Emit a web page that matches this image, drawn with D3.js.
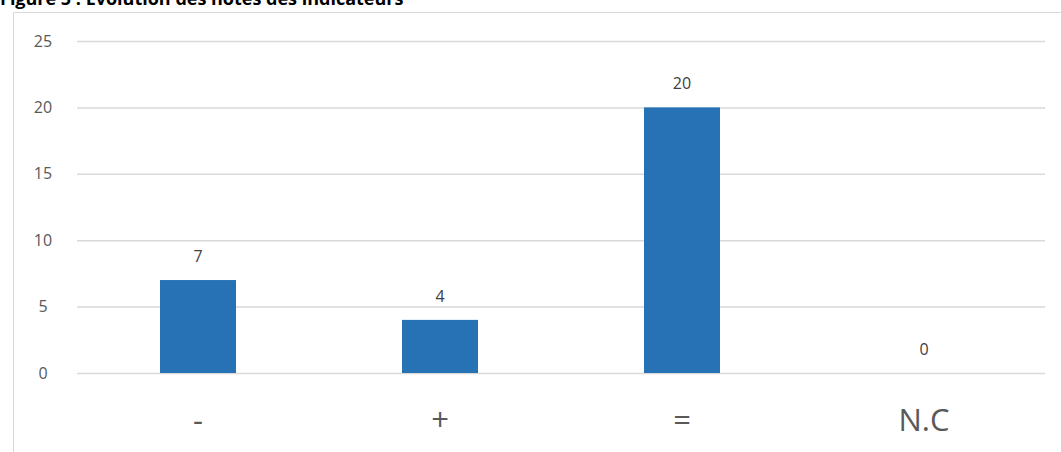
<!DOCTYPE html>
<html>
<head>
<meta charset="utf-8">
<script src="https://cdn.jsdelivr.net/npm/d3@7"></script>
<style>
  html, body { margin: 0; padding: 0; background: #fff; }
  svg { display: block; }
</style>
</head>
<body>
<svg id="chart" width="1061" height="452"></svg>
<script>
const titleText = "Figure 5 : Evolution des notes des indicateurs";
const categories = ["-", "+", "=", "N.C"];
const values = [7, 4, 20, 0];
const yTicks = [0, 5, 10, 15, 20, 25];

const svg = d3.select("#chart");
const W = 1061, H = 452;
const margin = { left: 77, right: 16, top: 41, bottom: 79 };

// title (partially cut at top, as in the reference)
svg.append("text")
  .attr("x", 0).attr("y", 5)
  .attr("font-family", "'Open Sans', sans-serif")
  .attr("font-weight", "bold")
  .attr("font-size", 18)
  .attr("fill", "#000")
  .text(titleText);

// chart frame
svg.append("path")
  .attr("d", `M13.5,${H} L13.5,12.5 L${W},12.5`)
  .attr("fill", "none")
  .attr("stroke", "#d9d9d9")
  .attr("stroke-width", 1);

const x = d3.scaleBand().domain(categories)
  .range([margin.left, W - margin.right]).paddingInner(0).paddingOuter(0);
const y = d3.scaleLinear().domain([0, 25]).range([H - margin.bottom, margin.top]);

// gridlines + y tick labels
const yAxis = d3.axisLeft(y).tickValues(yTicks).tickSize(-(W - margin.right - margin.left)).tickPadding(25);
const gy = svg.append("g").attr("transform", `translate(${margin.left},0)`).call(yAxis);
gy.select(".domain").remove();
gy.selectAll(".tick line").attr("stroke", "#d9d9d9").attr("stroke-width", 1.5);
gy.selectAll(".tick text")
  .attr("font-family", "'Open Sans', sans-serif")
  .attr("font-size", 16)
  .attr("fill", "#595959")
  .attr("x", -34)
  .attr("text-anchor", "middle");

// bars
const barW = x.bandwidth() * 0.314;
svg.append("g").selectAll("rect").data(values).join("rect")
  .attr("x", (d, i) => x(categories[i]) + x.bandwidth() / 2 - barW / 2)
  .attr("y", d => y(d))
  .attr("width", barW)
  .attr("height", d => y(0) - y(d))
  .attr("fill", "#2771b5");

// value labels
svg.append("g").selectAll("text").data(values).join("text")
  .attr("x", (d, i) => x(categories[i]) + x.bandwidth() / 2)
  .attr("y", d => y(d) - 18)
  .attr("text-anchor", "middle")
  .attr("font-family", "'Open Sans', sans-serif")
  .attr("font-size", 16)
  .attr("fill", "#404040")
  .text(d => d);

// category labels
const xAxis = d3.axisBottom(x).tickSize(0).tickPadding(0);
const gx = svg.append("g").attr("transform", `translate(0,${H - margin.bottom})`).call(xAxis);
gx.select(".domain").remove();
gx.selectAll(".tick text")
  .attr("font-family", "'Open Sans', sans-serif")
  .attr("font-size", 31)
  .attr("fill", "#595959")
  .attr("dy", 0)
  .attr("y", 58);
</script>
</body>
</html>
